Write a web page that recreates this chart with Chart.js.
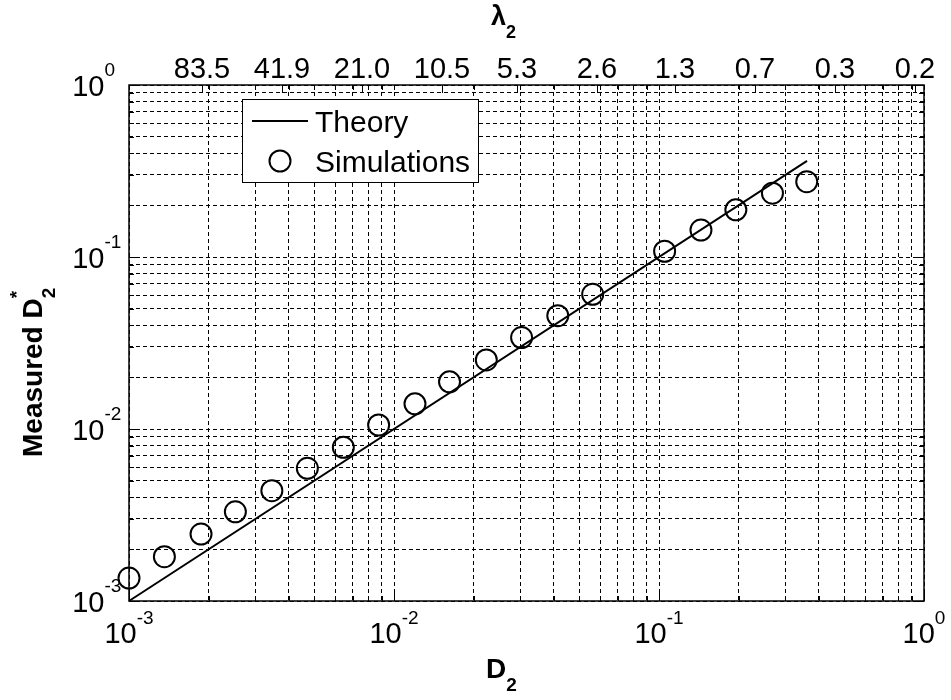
<!DOCTYPE html>
<html lang="en">
<head>
    <meta charset="UTF-8">
    <title>Measured D2* versus D2</title>
    <script src="https://cdn.jsdelivr.net/npm/chart.js"></script>
    <style>
        html, body {
            margin: 0;
            padding: 0;
            background: #fff;
        }
        canvas {
            display: block;
        }
    </style>
</head>
<body>
    <canvas id="d2Chart" width="951" height="700"></canvas>

    <script>
        // simulation results: D2 and measured D2*
        const simD2 = [0.00100, 0.00136, 0.00187, 0.00252, 0.00346, 0.00471, 0.00644, 0.00875, 0.0120,
                       0.0162, 0.0223, 0.0303, 0.0415, 0.0562, 0.105, 0.144, 0.195, 0.268, 0.361];
        const simMeasured = [0.00136, 0.00181, 0.00245, 0.00330, 0.00438, 0.00591, 0.00782, 0.01055, 0.0140,
                             0.0188, 0.0252, 0.0340, 0.0456, 0.0607, 0.108, 0.1435, 0.188, 0.235, 0.274];

        // theory line (end points)
        const theoryD2 = [0.001, 0.362];
        const theoryMeasured = [0.001, 0.362];

        // top axis: lambda_2 values at D2 positions
        const lambdaTicks = [0.001886, 0.003778, 0.007571, 0.015173, 0.029113, 0.058344, 0.11492, 0.23030, 0.46146, 0.92479];
        const lambdaLabels = ['83.5', '41.9', '21.0', '10.5', '5.3', '2.6', '1.3', '0.7', '0.3', '0.2'];

        // log axis ticks: decades and the steps inside one decade
        const decadeExps = [-3, -2, -1, 0];
        const minorSteps = [1, 2, 3, 4, 5, 6, 7, 8, 9];

        const gridValues = [];
        decadeExps.forEach(e => {
            minorSteps.forEach(s => {
                const v = s * Math.pow(10, e);
                if (v <= 1.0000001) gridValues.push(v);
            });
        });

        const FONT = '"Liberation Sans", Arial, Helvetica, sans-serif';

        function font(size, bold) {
            return (bold ? 'bold ' : '') + size + 'px ' + FONT;
        }

        // draws the tick labels, titles, box and legend the MATLAB way
        const decorPlugin = {
            id: 'decor',
            afterDraw(chart) {
                const ctx = chart.ctx;
                const area = chart.chartArea;
                const xs = chart.scales.x;
                const ys = chart.scales.y;
                const xt = chart.scales.x2;

                ctx.save();
                ctx.fillStyle = '#000';
                ctx.strokeStyle = '#000';
                ctx.textBaseline = 'alphabetic';

                // inside tick marks
                ctx.lineWidth = 1;
                ctx.setLineDash([]);
                ctx.beginPath();
                gridValues.forEach(v => {
                    const major = Math.abs(Math.log10(v) - Math.round(Math.log10(v))) < 1e-9;
                    const len = major ? 10 : 5;
                    const px = Math.round(xs.getPixelForValue(v)) + 0.5;
                    ctx.moveTo(px, area.bottom); ctx.lineTo(px, area.bottom - len);
                    ctx.moveTo(px, area.top); ctx.lineTo(px, area.top + 5);
                    const py = Math.round(ys.getPixelForValue(v)) + 0.5;
                    ctx.moveTo(area.left, py); ctx.lineTo(area.left + len, py);
                    ctx.moveTo(area.right, py); ctx.lineTo(area.right - len, py);
                });
                lambdaTicks.forEach(v => {
                    const px = Math.round(xt.getPixelForValue(v)) + 0.5;
                    ctx.moveTo(px, area.top); ctx.lineTo(px, area.top + 8);
                });
                ctx.stroke();

                // axes box
                ctx.lineWidth = 1.5;
                ctx.strokeRect(area.left, area.top, area.right - area.left, area.bottom - area.top);

                // bottom axis labels 10^n
                decadeExps.forEach(e => {
                    const px = xs.getPixelForValue(Math.pow(10, e));
                    ctx.font = font(29);
                    const w10 = ctx.measureText('10').width;
                    ctx.font = font(19);
                    const wSup = ctx.measureText(String(e)).width;
                    const x0 = px - (w10 + wSup) / 2;
                    ctx.textAlign = 'left';
                    ctx.font = font(29);
                    ctx.fillText('10', x0, 643);
                    ctx.font = font(19);
                    ctx.fillText(String(e), x0 + w10, 624);
                });

                // left axis labels 10^n
                decadeExps.forEach(e => {
                    const py = ys.getPixelForValue(Math.pow(10, e));
                    ctx.font = font(29);
                    ctx.textAlign = 'right';
                    ctx.fillText('10', 104.5, py + 10.5);
                    ctx.font = font(19);
                    ctx.textAlign = 'left';
                    ctx.fillText(String(e), 104.5, py - 9);
                });

                // top axis labels (lambda_2)
                ctx.font = font(29);
                ctx.textAlign = 'center';
                lambdaTicks.forEach((v, i) => {
                    ctx.fillText(lambdaLabels[i], xt.getPixelForValue(v), 78);
                });

                // axis titles
                ctx.textAlign = 'left';
                ctx.font = font(28, true);
                ctx.fillText('D', 486, 678);
                const wD = ctx.measureText('D').width;
                ctx.font = font(19, true);
                ctx.fillText('2', 486 + wD, 691);

                ctx.font = font(27, true);
                ctx.fillText('\u03bb', 491, 25);
                const wL = ctx.measureText('\u03bb').width;
                ctx.font = font(18, true);
                ctx.fillText('2', 491 + wL, 38);

                ctx.save();
                ctx.translate(42, 457);
                ctx.rotate(-Math.PI / 2);
                ctx.font = font(28, true);
                ctx.fillText('Measured D', 0, 0);
                const wM = ctx.measureText('Measured D').width;
                ctx.font = font(19, true);
                ctx.fillText('2', wM, 13);
                ctx.fillText('*', wM, -19);
                ctx.restore();

                // legend
                const lx = 242, ly = 99, lw = 236, lh = 83;
                ctx.fillStyle = '#fff';
                ctx.fillRect(lx, ly, lw, lh);
                ctx.lineWidth = 1;
                ctx.strokeRect(lx + 0.5, ly + 0.5, lw, lh);
                ctx.fillStyle = '#000';

                const theory = chart.data.datasets[0];
                const sims = chart.data.datasets[1];
                ctx.lineWidth = theory.borderWidth;
                ctx.beginPath();
                ctx.moveTo(252, 121);
                ctx.lineTo(308, 121);
                ctx.stroke();

                ctx.lineWidth = sims.pointBorderWidth;
                ctx.beginPath();
                ctx.arc(280, 161, sims.pointRadius, 0, Math.PI * 2);
                ctx.stroke();

                ctx.font = font(30);
                ctx.textAlign = 'left';
                ctx.fillText(theory.label, 315, 132);
                ctx.fillText(sims.label, 315, 172);

                ctx.restore();
            }
        };

        const logAxis = (position, size, values, showGrid) => ({
            type: 'logarithmic',
            position: position,
            min: 0.001,
            max: 1,
            afterBuildTicks: scale => {
                scale.ticks = values.map(v => ({ value: v }));
            },
            afterFit: scale => {
                if (position === 'left') scale.width = size;
                else scale.height = size;
            },
            ticks: { display: false },
            grid: {
                display: showGrid,
                color: '#000',
                lineWidth: 1,
                drawTicks: false
            },
            border: { display: false, dash: [4, 3] }
        });

        const ctx = document.getElementById('d2Chart').getContext('2d');
        new Chart(ctx, {
            type: 'scatter',
            data: {
                datasets: [{
                    label: 'Theory',
                    data: theoryD2.map((x, i) => ({ x: x, y: theoryMeasured[i] })),
                    showLine: true,
                    borderColor: '#000',
                    borderWidth: 2,
                    pointRadius: 0,
                    clip: false,
                    xAxisID: 'x',
                    yAxisID: 'y'
                }, {
                    label: 'Simulations',
                    data: simD2.map((x, i) => ({ x: x, y: simMeasured[i] })),
                    showLine: false,
                    pointStyle: 'circle',
                    pointRadius: 10.5,
                    pointHoverRadius: 10.5,
                    pointBorderWidth: 2,
                    borderColor: '#000',
                    backgroundColor: 'rgba(0,0,0,0)',
                    clip: false,
                    xAxisID: 'x',
                    yAxisID: 'y'
                }]
            },
            options: {
                responsive: false,
                animation: false,
                events: [],
                layout: { padding: { left: 0, right: 27, top: 0, bottom: 0 } },
                plugins: {
                    legend: { display: false },
                    tooltip: { enabled: false }
                },
                scales: {
                    x: logAxis('bottom', 99, gridValues, true),
                    x2: logAxis('top', 85, lambdaTicks, false),
                    y: logAxis('left', 129, gridValues, true)
                }
            },
            plugins: [decorPlugin]
        });
    </script>
</body>
</html>
